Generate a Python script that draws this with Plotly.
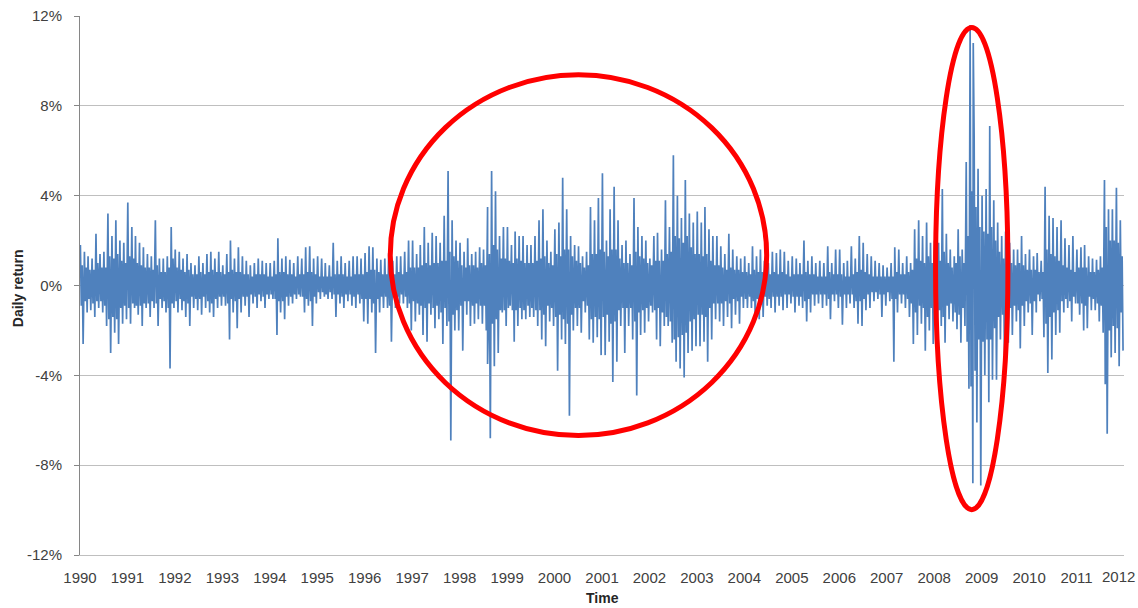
import pandas as pd
import plotly.graph_objects as go

# ---- data (daily return, %), one row per year, 12 months each ----
# largest up-move of each month
spike_hi = [
    1.8, 1.5, 1.3, 1.2, 2.3, 1.4, 1.5, 3.2, 2.2, 2.9, 2.0, 1.9,      # 1990
    3.7, 2.6, 2.2, 1.9, 1.7, 1.4, 1.3, 2.9, 1.2, 1.2, 1.3, 2.6,      # 1991
    1.6, 1.5, 1.2, 1.4, 1.0, 0.9, 1.3, 1.0, 1.4, 1.5, 1.2, 1.5,      # 1992
    0.9, 1.4, 2.0, 1.2, 1.7, 1.3, 1.1, 0.9, 1.0, 1.2, 1.1, 1.0,      # 1993
    1.0, 1.1, 2.1, 1.2, 1.3, 1.15, 1.0, 1.3, 1.2, 1.7, 1.75, 1.2,    # 1994
    1.3, 1.2, 1.0, 0.9, 1.9, 1.1, 1.3, 1.0, 1.1, 1.3, 1.3, 1.2,      # 1995
    1.45, 1.75, 1.7, 1.2, 1.15, 1.2, 1.45, 1.1, 1.3, 1.3, 1.5, 2.0,  # 1996
    2.0, 1.4, 1.8, 2.6, 1.9, 2.35, 2.2, 1.9, 3.1, 5.1, 2.9, 2.0,     # 1997
    1.9, 1.5, 2.1, 1.4, 1.5, 1.7, 1.6, 3.5, 5.1, 4.2, 2.2, 2.6,      # 1998
    2.6, 1.8, 2.4, 2.2, 2.2, 1.8, 1.8, 2.2, 2.9, 3.4, 2.0, 1.5,      # 1999
    2.5, 2.8, 4.8, 3.4, 2.2, 1.8, 1.75, 1.3, 1.5, 3.5, 2.9, 3.9,     # 2000
    5.0, 2.0, 3.4, 4.4, 2.9, 1.8, 2.0, 1.4, 3.9, 2.6, 2.2, 2.0,      # 2001
    1.2, 2.2, 2.35, 1.6, 3.8, 2.6, 5.8, 4.0, 3.0, 4.7, 3.2, 2.8,     # 2002
    3.3, 2.8, 3.5, 2.5, 2.2, 2.2, 1.75, 1.4, 2.3, 1.6, 1.3, 1.2,     # 2003
    1.3, 1.0, 1.75, 1.3, 1.6, 1.1, 1.0, 1.5, 1.45, 1.6, 1.5, 1.1,    # 2004
    1.3, 1.2, 1.0, 2.0, 1.1, 1.3, 1.0, 1.1, 1.0, 1.75, 1.0, 1.6,     # 2005
    1.6, 1.0, 1.1, 1.75, 1.2, 2.2, 1.9, 1.4, 1.3, 1.1, 1.0, 0.9,     # 2006
    0.8, 1.0, 1.7, 1.6, 1.0, 1.3, 1.0, 2.5, 2.9, 2.2, 2.8, 1.9,      # 2007
    2.0, 1.9, 4.3, 2.3, 1.6, 1.3, 2.5, 1.6, 5.5, 11.6, 6.6, 5.2,     # 2008
    4.0, 4.3, 7.1, 3.8, 2.8, 2.2, 2.4, 1.9, 1.6, 1.6, 2.2, 1.4,      # 2009
    1.6, 1.3, 1.45, 1.1, 4.4, 3.1, 3.0, 2.6, 2.9, 2.1, 1.8, 2.2,     # 2010
    1.6, 1.7, 1.8, 1.3, 1.2, 1.15, 1.3, 4.7, 3.4, 3.4, 4.35, 2.9,    # 2011
]
# typical up-move of each month (top of the dense band)
core_hi = [
    0.9, 0.8, 0.7, 0.7, 1.0, 0.8, 0.8, 1.3, 1.2, 1.4, 1.1, 1.0,      # 1990
    1.3, 1.2, 1.0, 0.9, 0.8, 0.8, 0.7, 0.9, 0.6, 0.6, 0.8, 1.2,      # 1991
    0.8, 0.7, 0.6, 0.7, 0.5, 0.5, 0.6, 0.5, 0.6, 0.7, 0.6, 0.6,      # 1992
    0.5, 0.6, 0.7, 0.6, 0.6, 0.5, 0.5, 0.4, 0.5, 0.5, 0.5, 0.4,      # 1993
    0.4, 0.5, 0.6, 0.6, 0.5, 0.5, 0.4, 0.5, 0.5, 0.6, 0.6, 0.5,      # 1994
    0.4, 0.4, 0.4, 0.4, 0.5, 0.5, 0.5, 0.4, 0.4, 0.5, 0.5, 0.5,      # 1995
    0.6, 0.7, 0.7, 0.6, 0.5, 0.5, 0.7, 0.5, 0.6, 0.5, 0.6, 0.8,      # 1996
    0.8, 0.8, 0.9, 1.0, 0.9, 1.0, 1.0, 1.1, 1.1, 1.5, 1.3, 1.1,      # 1997
    0.9, 0.8, 0.9, 0.9, 0.8, 1.0, 0.9, 1.4, 1.8, 1.6, 1.2, 1.2,      # 1998
    1.1, 1.0, 1.2, 1.1, 1.0, 1.0, 1.0, 1.1, 1.2, 1.3, 1.0, 0.9,      # 1999
    1.4, 1.3, 1.6, 1.6, 1.3, 1.1, 1.0, 0.8, 0.9, 1.4, 1.4, 1.6,      # 2000
    1.5, 1.3, 1.6, 1.6, 1.2, 1.0, 1.0, 0.9, 1.5, 1.3, 1.2, 1.0,      # 2001
    0.9, 1.1, 1.1, 1.1, 1.4, 1.5, 2.2, 2.1, 1.9, 2.2, 1.7, 1.4,      # 2002
    1.4, 1.3, 1.4, 1.1, 0.9, 0.9, 0.8, 0.7, 0.8, 0.7, 0.7, 0.6,      # 2003
    0.6, 0.5, 0.7, 0.6, 0.6, 0.5, 0.5, 0.6, 0.5, 0.6, 0.5, 0.4,      # 2004
    0.5, 0.5, 0.5, 0.6, 0.5, 0.5, 0.4, 0.4, 0.4, 0.6, 0.5, 0.5,      # 2005
    0.5, 0.4, 0.4, 0.5, 0.6, 0.7, 0.6, 0.5, 0.4, 0.4, 0.4, 0.4,      # 2006
    0.4, 0.4, 0.6, 0.5, 0.5, 0.6, 0.7, 1.2, 1.1, 1.0, 1.3, 1.0,      # 2007
    1.3, 1.1, 1.5, 1.0, 0.8, 1.0, 1.3, 1.0, 2.2, 4.2, 3.5, 2.6,      # 2008
    2.4, 2.3, 2.6, 2.0, 1.5, 1.2, 1.1, 1.0, 0.9, 1.0, 0.9, 0.7,      # 2009
    0.7, 0.7, 0.6, 0.6, 1.6, 1.4, 1.3, 1.1, 0.9, 0.8, 0.7, 0.6,      # 2010
    0.8, 0.8, 0.8, 0.6, 0.6, 0.7, 0.8, 2.6, 2.0, 2.0, 1.9, 1.3,      # 2011
]
# typical down-move of each month (bottom of the dense band)
core_lo = [
    -0.9, -0.7, -0.6, -0.8, -0.7, -0.7, -0.9, -1.5, -1.4, -1.5, -1.0, -0.9,   # 1990
    -1.0, -0.8, -0.9, -0.9, -0.8, -0.8, -0.7, -0.8, -0.6, -0.7, -1.0, -0.8,   # 1991
    -0.7, -0.6, -0.7, -0.8, -0.5, -0.6, -0.6, -0.5, -0.7, -0.8, -0.6, -0.5,   # 1992
    -0.5, -0.8, -0.6, -0.7, -0.6, -0.5, -0.5, -0.4, -0.5, -0.4, -0.5, -0.4,   # 1993
    -0.4, -0.6, -0.7, -0.7, -0.5, -0.5, -0.4, -0.4, -0.5, -0.6, -0.7, -0.5,   # 1994
    -0.3, -0.3, -0.4, -0.3, -0.4, -0.4, -0.5, -0.4, -0.4, -0.5, -0.4, -0.6,   # 1995
    -0.6, -0.6, -0.8, -0.6, -0.5, -0.5, -0.9, -0.5, -0.5, -0.4, -0.5, -0.8,   # 1996
    -0.7, -0.8, -0.9, -1.0, -0.8, -1.0, -0.9, -1.2, -1.0, -1.6, -1.3, -1.1,   # 1997
    -0.9, -0.7, -0.7, -0.9, -0.8, -0.9, -0.9, -1.6, -1.7, -1.5, -1.1, -1.1,   # 1998
    -1.0, -1.1, -1.1, -1.0, -1.1, -0.9, -1.0, -1.1, -1.1, -1.3, -0.9, -1.0,   # 1999
    -1.4, -1.3, -1.5, -1.7, -1.3, -1.0, -1.0, -0.7, -0.9, -1.5, -1.4, -1.5,   # 2000
    -1.4, -1.3, -1.7, -1.6, -1.1, -1.0, -1.0, -1.0, -1.6, -1.2, -1.1, -1.0,   # 2001
    -0.9, -1.1, -1.0, -1.2, -1.4, -1.6, -2.4, -2.3, -2.2, -2.1, -1.6, -1.5,   # 2002
    -1.3, -1.3, -1.4, -1.0, -0.8, -0.8, -0.8, -0.7, -0.8, -0.6, -0.7, -0.5,   # 2003
    -0.6, -0.5, -0.7, -0.6, -0.6, -0.5, -0.6, -0.5, -0.5, -0.5, -0.4, -0.4,   # 2004
    -0.5, -0.5, -0.5, -0.7, -0.6, -0.4, -0.4, -0.4, -0.4, -0.6, -0.4, -0.4,   # 2005
    -0.5, -0.4, -0.4, -0.4, -0.7, -0.7, -0.6, -0.4, -0.3, -0.3, -0.4, -0.4,   # 2006
    -0.3, -0.6, -0.6, -0.4, -0.4, -0.6, -0.8, -1.2, -0.9, -1.0, -1.4, -1.0,   # 2007
    -1.4, -1.1, -1.4, -0.9, -0.8, -1.2, -1.3, -1.0, -2.5, -4.5, -3.8, -2.4,   # 2008
    -2.5, -2.4, -2.4, -1.9, -1.4, -1.3, -1.1, -1.0, -0.9, -1.1, -0.9, -0.7,   # 2009
    -0.8, -0.7, -0.4, -0.6, -1.7, -1.4, -1.2, -1.1, -0.7, -0.6, -0.7, -0.5,   # 2010
    -0.8, -0.8, -0.9, -0.5, -0.6, -0.8, -0.9, -2.7, -2.0, -1.8, -1.9, -1.2,   # 2011
]
# largest down-move of each month
spike_lo = [
    -2.6, -1.2, -1.1, -1.4, -1.0, -1.2, -1.8, -3.0, -2.1, -2.6, -1.7, -1.5,   # 1990
    -1.7, -1.0, -1.3, -1.8, -1.0, -1.4, -1.0, -1.8, -1.0, -1.2, -3.7, -1.0,   # 1991
    -1.2, -1.1, -1.4, -1.8, -1.0, -1.1, -1.3, -1.0, -1.2, -1.4, -1.0, -0.9,   # 1992
    -0.9, -2.4, -1.2, -1.9, -1.2, -0.9, -1.4, -0.8, -1.0, -0.7, -1.0, -0.6,   # 1993
    -0.6, -2.2, -1.2, -1.5, -0.9, -0.8, -0.6, -0.5, -1.2, -0.9, -1.8, -0.8,   # 1994
    -0.6, -0.5, -0.6, -0.6, -1.4, -0.8, -1.0, -0.7, -0.9, -1.0, -0.8, -1.6,   # 1995
    -1.7, -1.2, -3.0, -1.2, -1.0, -1.0, -2.5, -1.0, -0.8, -0.8, -1.0, -2.0,   # 1996
    -1.6, -1.3, -2.2, -2.5, -1.3, -1.9, -1.5, -2.6, -1.8, -6.9, -2.0, -2.0,   # 1997
    -2.9, -1.3, -1.8, -1.7, -1.5, -1.7, -2.0, -6.8, -3.6, -3.0, -1.2, -1.8,   # 1998
    -0.9, -2.5, -1.8, -1.5, -1.5, -1.4, -1.4, -1.8, -2.4, -2.7, -1.6, -1.8,   # 1999
    -3.8, -2.4, -2.6, -5.8, -2.0, -1.8, -2.1, -1.2, -2.4, -2.55, -2.3, -3.1,  # 2000
    -3.1, -2.5, -4.3, -3.4, -1.8, -3.0, -1.8, -2.4, -4.9, -2.2, -2.1, -1.6,   # 2001
    -1.2, -2.4, -2.7, -1.8, -1.8, -2.55, -3.4, -3.7, -4.1, -3.0, -2.9, -2.7,  # 2002
    -2.7, -2.5, -3.4, -2.4, -1.5, -1.6, -1.8, -1.4, -1.9, -1.3, -1.7, -1.0,   # 2003
    -1.0, -1.0, -1.5, -1.5, -1.4, -0.9, -1.0, -1.2, -0.9, -1.1, -1.0, -0.8,   # 2004
    -1.2, -0.9, -1.0, -1.6, -1.2, -0.9, -0.8, -1.0, -0.9, -1.5, -0.7, -1.0,   # 2005
    -1.75, -1.0, -0.8, -1.0, -1.7, -1.8, -1.1, -1.0, -0.7, -0.6, -1.4, -0.9,  # 2006
    -0.7, -3.4, -1.2, -0.8, -1.0, -1.4, -2.6, -2.2, -1.7, -2.9, -2.0, -2.6,   # 2007
    -2.85, -1.8, -2.55, -1.5, -1.6, -1.95, -2.55, -1.8, -4.6, -8.8, -6.1, -8.9,  # 2008
    -4.0, -5.2, -4.2, -4.2, -2.4, -3.1, -2.55, -2.2, -1.6, -2.8, -1.8, -1.2,  # 2009
    -2.2, -1.2, -0.7, -2.3, -3.9, -3.3, -2.2, -2.1, -1.2, -1.0, -1.6, -0.8,   # 2010
    -1.3, -2.0, -1.9, -1.1, -1.1, -1.6, -2.1, -6.6, -3.2, -3.0, -3.6, -2.9,   # 2011
]
# a few single days that stand out on their own
extra_dates = ["1998-08-04", "2008-10-28", "2011-08-10"]
extra_vals = [-3.5, 10.8, -4.4]

# axis labels
year_ticks = list(range(1990, 2013))
y_tickvals = [-0.12, -0.08, -0.04, 0.0, 0.04, 0.08, 0.12]
y_ticktext = ["-12%", "-8%", "-4%", "0%", "4%", "8%", "12%"]

# ---- build the series ----
pts = []
for i in range(len(spike_hi)):
    yr, mo = 1990 + i // 12, i % 12 + 1
    for day, v in zip((4, 11, 18, 25), (spike_hi[i], core_lo[i], core_hi[i], spike_lo[i])):
        pts.append((pd.Timestamp(yr, mo, day), v / 100.0))
for d, v in zip(extra_dates, extra_vals):
    pts.append((pd.Timestamp(d), v / 100.0))
pts.sort(key=lambda p: p[0])
x = [p[0] for p in pts]
y = [p[1] for p in pts]

fig = go.Figure()
fig.add_trace(go.Scatter(x=x, y=y, mode="lines",
                         line=dict(color="#4F81BD", width=1.7),
                         hoverinfo="skip", showlegend=False))

tick_font = dict(family="Liberation Sans, Arial, sans-serif", size=15, color="#404040")
x_range = ["1990-01-01", "2012-01-01 08:00"]
x_tickvals = [f"{yy}-01-01" for yy in year_ticks]
# the last year label sits at the right edge; it is drawn as a right-anchored note so it stays whole
x_ticktext = [str(v) for v in year_ticks[:-1]] + [""]

fig.update_layout(
    width=1138, height=608,
    margin=dict(l=80, r=14, t=16, b=53, autoexpand=False),
    paper_bgcolor="white", plot_bgcolor="white",
    showlegend=False,
    xaxis=dict(type="date", range=x_range, tickvals=x_tickvals,
               ticktext=x_ticktext,
               showgrid=False, zeroline=False, automargin=False,
               showline=True, linecolor="#BFBFBF", linewidth=1,
               ticks="outside", ticklen=9, tickcolor="rgba(0,0,0,0)",
               ticklabeloverflow="allow",
               tickfont=tick_font),
    xaxis2=dict(type="date", range=x_range, tickvals=x_tickvals,
                overlaying="x", anchor="free", position=0.5,
                showticklabels=False, showgrid=False, zeroline=False,
                showline=True, linecolor="#868686", linewidth=1,
                ticks="outside", ticklen=4, tickcolor="#868686",
                layer="above traces"),
    yaxis=dict(range=[-0.12, 0.12], tickvals=y_tickvals, ticktext=y_ticktext,
               showgrid=True, gridcolor="#BFBFBF", gridwidth=1,
               zeroline=False, showline=True, linecolor="#868686", linewidth=1,
               ticks="outside", ticklen=5, tickcolor="#868686",
               ticklabelstandoff=9, tickfont=tick_font, automargin=False),
)

fig.add_annotation(text=str(year_ticks[-1]), xref="paper", yref="paper",
                   x=1.0125, y=-0.0408, xanchor="right", yanchor="middle",
                   showarrow=False, font=tick_font)

# highlight ellipses
fig.add_shape(type="circle", xref="x", yref="y",
              x0="1996-07-16", x1="2004-06-21", y0=-0.0668, y1=0.0938,
              line=dict(color="#FF0000", width=5), layer="above")
fig.add_shape(type="circle", xref="x", yref="y",
              x0="2008-01-12", x1="2009-07-22", y0=-0.0998, y1=0.1149,
              line=dict(color="#FF0000", width=5), layer="above")

# axis titles
fig.add_annotation(text="<b>Time</b>", xref="paper", yref="paper",
                   x=0.5, y=-0.08, xanchor="center", yanchor="middle",
                   showarrow=False,
                   font=dict(family="Liberation Sans, Arial, sans-serif", size=14, color="#262626"))
fig.add_annotation(text="<b>Daily return</b>", xref="paper", yref="paper",
                   x=-0.0594, y=0.495, xanchor="center", yanchor="middle",
                   textangle=-90, showarrow=False,
                   font=dict(family="Liberation Sans, Arial, sans-serif", size=14, color="#262626"))

fig.write_html("out.html")
